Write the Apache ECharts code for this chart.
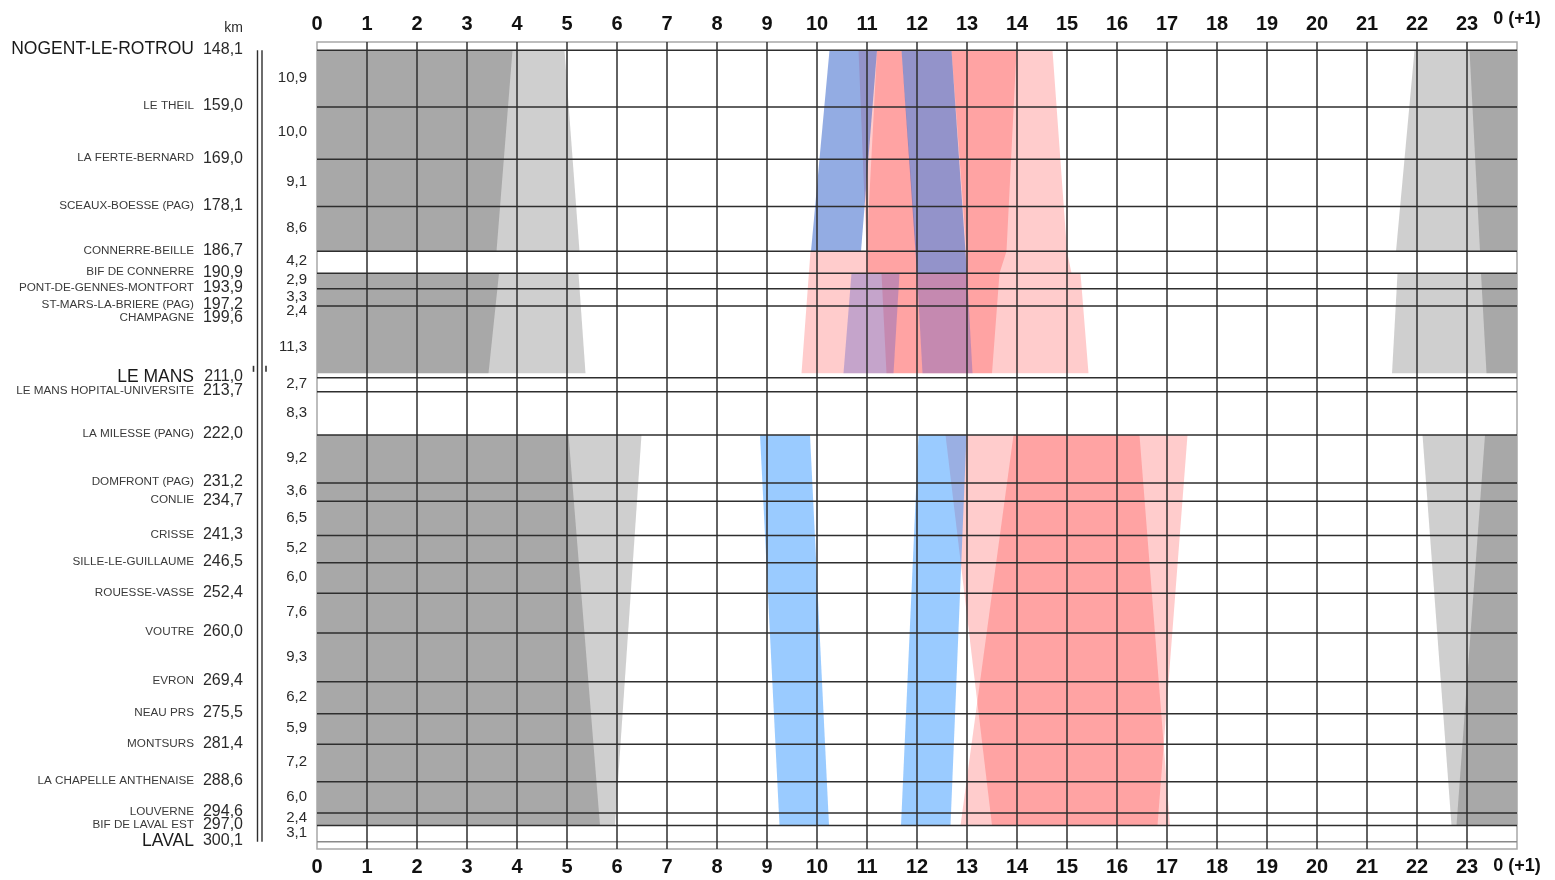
<!DOCTYPE html>
<html><head><meta charset="utf-8">
<script src="https://cdn.jsdelivr.net/npm/echarts/dist/echarts.min.js"></script>
<style>html,body{margin:0;padding:0;background:#fff}#c{width:1555px;height:880px}</style>
</head><body><div id="c"></div>
<script>
// ---------- data ----------
const hourLabels = ['0','1','2','3','4','5','6','7','8','9','10','11','12','13','14','15','16','17','18','19','20','21','22','23','0 (+1)'];
const stationNames = ['NOGENT-LE-ROTROU','LE THEIL','LA FERTE-BERNARD','SCEAUX-BOESSE (PAG)','CONNERRE-BEILLE','BIF DE CONNERRE','PONT-DE-GENNES-MONTFORT','ST-MARS-LA-BRIERE (PAG)','CHAMPAGNE','LE MANS','LE MANS HOPITAL-UNIVERSITE','LA MILESSE (PANG)','DOMFRONT (PAG)','CONLIE','CRISSE','SILLE-LE-GUILLAUME','ROUESSE-VASSE','VOUTRE','EVRON','NEAU PRS','MONTSURS','LA CHAPELLE ANTHENAISE','LOUVERNE','BIF DE LAVAL EST','LAVAL'];
const stationKm = [148.1,159.0,169.0,178.1,186.7,190.9,193.9,197.2,199.6,211.0,213.7,222.0,231.2,234.7,241.3,246.5,252.4,260.0,269.4,275.5,281.4,288.6,294.6,297.0,300.1];
const majorStations = ['NOGENT-LE-ROTROU','LE MANS','LAVAL'];
const sectionLengths = ['10,9','10,0','9,1','8,6','4,2','2,9','3,3','2,4','11,3','2,7','8,3','9,2','3,6','6,5','5,2','6,0','7,6','9,3','6,2','5,9','7,2','6,0','2,4','3,1'];
const lineKm = [148.1,159.0,169.0,178.1,186.7,190.9,193.9,197.2,211.0,213.7,222.0,231.2,234.7,241.3,246.5,252.4,260.0,269.4,275.5,281.4,288.6,294.6,297.0,300.1];
const kmRange = [146.5, 301.5];
const junctionKm = 211.0;

// polygons: [hour, km] vertices
const grayPolys = [
  [[0,148.1],[4.95,148.1],[5.25,186.7],[0,186.7]],
  [[0,148.1],[3.91,148.1],[3.59,186.7],[0,186.7]],
  [[0,190.9],[5.23,190.9],[5.37,210.1],[0,210.1]],
  [[0,190.9],[3.64,190.9],[3.43,210.1],[0,210.1]],
  [[0,222.0],[6.49,222.0],[5.96,297.0],[0,297.0]],
  [[0,222.0],[5.03,222.0],[5.66,297.0],[0,297.0]],
  [[21.95,148.1],[24,148.1],[24,186.7],[21.58,186.7]],
  [[23.05,148.1],[24,148.1],[24,186.7],[23.26,186.7]],
  [[21.61,190.9],[24,190.9],[24,210.1],[21.5,210.1]],
  [[23.28,190.9],[24,190.9],[24,210.1],[23.39,210.1]],
  [[22.11,222.0],[24,222.0],[24,297.0],[22.69,297.0]],
  [[23.36,222.0],[24,222.0],[24,297.0],[22.79,297.0]]
];
const pinkPolys = [
  [[10.83,148.1],[10.99,186.7],[9.87,186.7],[9.69,210.1],[15.43,210.1],[15.27,190.9],[15.09,190.9],[15.0,186.7],[14.71,148.1]],
  [[11.2,148.1],[10.99,186.7],[10.99,190.9],[11.29,190.9],[11.39,210.1],[12.11,210.1],[12.0,190.9],[11.99,186.7],[11.69,148.1]],
  [[12.69,148.1],[12.99,186.7],[12.99,190.9],[12.0,190.9],[12.11,210.1],[13.5,210.1],[13.65,190.9],[13.79,186.7],[13.99,148.1]],
  [[12.57,222.0],[13.5,297.0],[17.06,297.0],[16.45,222.0]],
  [[13.93,222.0],[12.87,297.0],[16.81,297.0],[17.41,222.0]]
];
const blueNorthPolys = [
  [[10.25,148.1],[9.88,186.7],[10.88,186.7],[11.2,148.1]],
  [[11.69,148.1],[12.0,190.9],[13.0,190.9],[12.69,148.1]]
];
const blueMansPolys = [
  [[10.69,190.9],[10.53,210.1],[11.53,210.1],[11.65,190.9]],
  [[12.0,190.9],[12.11,210.1],[13.11,210.1],[13.0,190.9]]
];
const blueSouthPolys = [
  [[8.86,222.0],[9.25,297.0],[10.24,297.0],[9.86,222.0]],
  [[12.03,222.0],[11.68,297.0],[12.67,297.0],[12.99,222.0]]
];

// ---------- chart ----------
const FONT = '"Liberation Sans", Arial, sans-serif';
const chart = echarts.init(document.getElementById('c'), null, {renderer:'canvas'});

function polySeries(polys, color, z){
  return {
    type:'custom', coordinateSystem:'cartesian2d', xAxisIndex:0, yAxisIndex:0,
    z, silent:true, clip:false, animation:false,
    data: polys.map(p => p[0]),
    renderItem: (params, api) => {
      const p = polys[params.dataIndex];
      return {type:'polygon', shape:{points:p.map(v => api.coord(v))}, style:{fill:color}};
    }
  };
}

const gridSeries = {
  type:'custom', coordinateSystem:'cartesian2d', xAxisIndex:0, yAxisIndex:0,
  z:20, silent:true, clip:false, animation:false,
  data:[[0, stationKm[0]]],
  renderItem: (params, api) => {
    const ch = [];
    const tl = api.coord([0, kmRange[0]]);
    const br = api.coord([hourLabels.length-1, kmRange[1]]);
    ch.push({type:'rect', shape:{x:tl[0], y:tl[1], width:br[0]-tl[0], height:br[1]-tl[1]},
      style:{fill:'none', stroke:'#a8a8a8', lineWidth:1.5}});
    lineKm.forEach((k, i) => {
      const a = api.coord([0, k]), b = api.coord([hourLabels.length-1, k]);
      const last = i === lineKm.length-1;
      ch.push({type:'line', shape:{x1:a[0], y1:a[1], x2:b[0], y2:b[1]},
        style:{stroke: last ? '#8a8a8a' : '#2e2e2e', lineWidth:1.5}});
    });
    for (let h = 1; h < hourLabels.length-1; h++) {
      const a = api.coord([h, kmRange[0]]), b = api.coord([h, kmRange[1]]);
      ch.push({type:'line', shape:{x1:a[0], y1:a[1], x2:b[0], y2:b[1]},
        style:{stroke:'#2e2e2e', lineWidth:1.5}});
    }
    return {type:'group', children:ch};
  }
};

const labelSeries = {
  type:'custom', coordinateSystem:'cartesian2d', xAxisIndex:0, yAxisIndex:0,
  z:30, silent:true, clip:false, animation:false,
  data:[[0, stationKm[0]]],
  renderItem: (params, api) => {
    const ch = [];
    const nameX = 194, kmX = 243, secX = 307;
    stationNames.forEach((n, i) => {
      const y = api.coord([0, stationKm[i]])[1] - 1;
      const major = majorStations.indexOf(n) >= 0;
      ch.push({type:'text', x:nameX, y, style:{text:n, fill: major ? '#1a1a1a' : '#3a3a3a',
        fontSize: major ? 17.5 : 11.7, fontFamily:FONT, align:'right', verticalAlign:'middle'}});
      ch.push({type:'text', x:kmX, y, style:{text:stationKm[i].toFixed(1).replace('.', ','), fill:'#2a2a2a',
        fontSize:16, fontFamily:FONT, align:'right', verticalAlign:'middle'}});
    });
    sectionLengths.forEach((s, i) => {
      const y = api.coord([0, (stationKm[i] + stationKm[i+1]) / 2])[1] - 1;
      ch.push({type:'text', x:secX, y, style:{text:s, fill:'#2a2a2a', fontSize:15, fontFamily:FONT,
        align:'right', verticalAlign:'middle'}});
    });
    ch.push({type:'text', x:kmX, y:28, style:{text:'km', fill:'#2a2a2a', fontSize:14, fontFamily:FONT,
      align:'right', verticalAlign:'middle'}});
    // double track line
    const y0 = api.coord([0, stationKm[0]])[1], y1 = api.coord([0, stationKm[stationKm.length-1]])[1];
    [257.5, 262].forEach(x => ch.push({type:'line', shape:{x1:x, y1:y0, x2:x, y2:y1},
      style:{stroke:'#2e2e2e', lineWidth:1.4}}));
    // junction marks near Le Mans
    const yj = api.coord([0, junctionKm])[1];
    [253.5, 266].forEach(x => ch.push({type:'line', shape:{x1:x, y1:yj-12, x2:x, y2:yj-6},
      style:{stroke:'#333', lineWidth:1.6}}));
    return {type:'group', children:ch};
  }
};

function axisLabelCfg(raise){
  return {
    margin:8, fontSize:20, fontWeight:'bold', color:'#111', fontFamily:FONT,
    formatter: v => { const t = hourLabels[Math.round(v)]; return t.indexOf('(') >= 0 ? '{s|' + t + '}' : t; },
    rich:{ s:{fontSize:18, fontWeight:'bold', color:'#111', fontFamily:FONT, padding:[0,0,raise,0]} }
  };
}

chart.setOption({
  animation:false,
  backgroundColor:'#fff',
  grid:{left:317, right:38, top:42, bottom:31, outerBoundsMode:'none', containLabel:false},
  xAxis:[
    {type:'value', position:'bottom', min:0, max:24, interval:1,
     axisLine:{show:false}, axisTick:{show:false}, splitLine:{show:false}, axisLabel:axisLabelCfg(0)},
    {type:'value', position:'top', min:0, max:24, interval:1,
     axisLine:{show:false}, axisTick:{show:false}, splitLine:{show:false}, axisLabel:axisLabelCfg(6)}
  ],
  yAxis:{type:'value', inverse:true, min:kmRange[0], max:kmRange[1], show:false},
  series:[
    polySeries(grayPolys, 'rgba(0,0,0,0.19)', 2),
    polySeries(pinkPolys, 'rgba(255,0,0,0.2)', 3),
    polySeries(blueNorthPolys, 'rgba(40,90,200,0.5)', 4),
    polySeries(blueMansPolys, 'rgba(90,90,200,0.35)', 5),
    polySeries(blueSouthPolys, 'rgba(30,140,255,0.45)', 6),
    gridSeries,
    labelSeries
  ]
});
</script>
</body></html>
